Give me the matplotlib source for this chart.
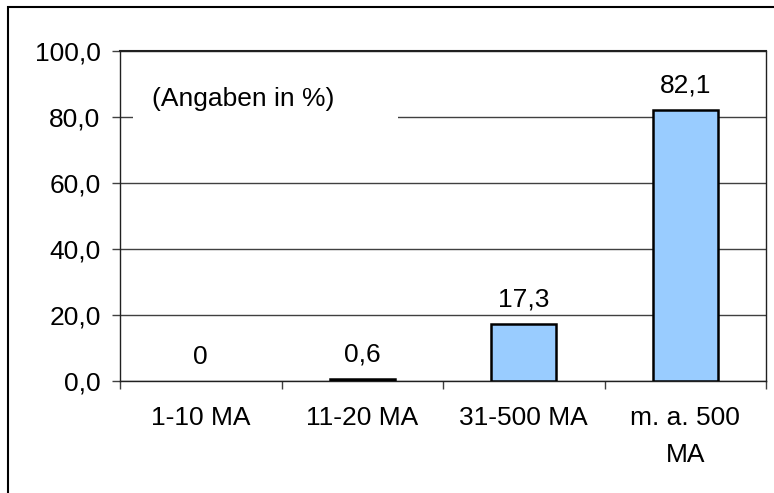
import matplotlib
matplotlib.use("Agg")
import matplotlib.pyplot as plt
from matplotlib.patches import Rectangle
import numpy as np

categories = ["1-10 MA", "11-20 MA", "31-500 MA", "m. a. 500\nMA"]
values = [0, 0.6, 17.3, 82.1]
yticks = [0, 20, 40, 60, 80, 100]
note = "(Angaben in %)"

plt.rcParams['font.family'] = ['Liberation Sans', 'DejaVu Sans']
FS = 19

fig = plt.figure(figsize=(7.74, 4.93), dpi=100)
ax = fig.add_axes([120/774, 1-381/493, (766-120)/774, (381-51)/493])

x = np.arange(len(categories))
edges = ['none' if v == 0 else 'black' for v in values]
ax.bar(x, values, width=0.4, color='#99CCFF', edgecolor=edges, linewidth=1.8, zorder=3)

for xi, v in zip(x, values):
    lab = "0" if v == 0 else f"{v:.1f}".replace('.', ',')
    ax.annotate(lab, (xi, v), xytext=(0, 9), textcoords='offset points',
                ha='center', va='bottom', fontsize=FS)

ax.set_xlim(-0.5, len(categories) - 0.5)
ax.set_ylim(0, 100)
ax.set_yticks(yticks)
ax.set_yticklabels([f"{t:.1f}".replace('.', ',') for t in yticks], fontsize=FS)
ax.yaxis.grid(True, color='#404040', linewidth=1.0, zorder=0)
ax.set_axisbelow(True)

ax.set_xticks(x)
ax.set_xticklabels(categories, fontsize=FS, linespacing=1.7)
ax.set_xticks(np.arange(len(categories) + 1) - 0.5, minor=True)
ax.tick_params(axis='x', which='major', length=0, pad=18)
ax.tick_params(axis='x', which='minor', length=6, width=1.0, direction='out', color='#404040')
ax.tick_params(axis='y', length=6, width=1.0, direction='out', pad=8, color='#404040')

for s in ['left', 'bottom', 'right', 'top']:
    ax.spines[s].set_linewidth(1.0)
    ax.spines[s].set_color('#202020')
ax.spines['top'].set_linewidth(1.5)

ax.text(0.05, 0.855, note, transform=ax.transAxes, fontsize=FS, ha='left', va='center', zorder=5)
ax.add_patch(Rectangle((0.02, 0.73), 0.41, 0.19, transform=ax.transAxes,
                       facecolor='white', edgecolor='none', zorder=4))

fig.add_artist(Rectangle((8/774, -0.05), 1.0, 1 - 7/493 + 0.05, transform=fig.transFigure,
                         fill=False, edgecolor='black', linewidth=1.5))

fig.savefig("out.png", dpi=100)
